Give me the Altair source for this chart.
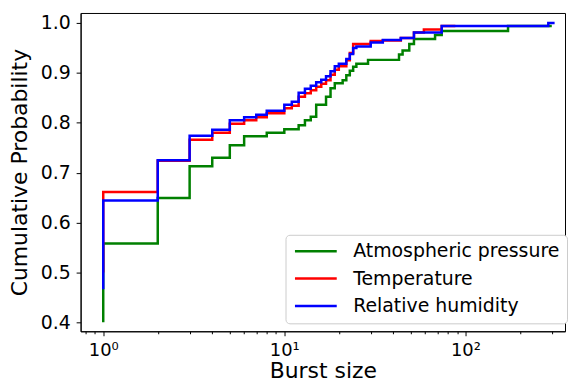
import altair as alt
import pandas as pd

series_names = ["Atmospheric pressure", "Temperature", "Relative humidity"]
series_colors = ["#008000", "#ff0000", "#0000ff"]

atm_x = [1, 1, 2, 3, 4, 5, 6, 8, 10, 12, 13, 14, 15, 17, 18, 19, 21, 22, 23, 24, 25, 29, 43, 45, 49, 52, 68, 74, 172, 300]
atm_y = [0.400, 0.558, 0.649, 0.713, 0.730, 0.755, 0.773, 0.780, 0.787, 0.795, 0.805, 0.812, 0.836, 0.852, 0.869,
         0.879, 0.885, 0.895, 0.904, 0.912, 0.918, 0.926, 0.937, 0.945, 0.958, 0.968, 0.976, 0.984, 0.994, 0.994]

temp_x = [1, 1, 2, 3, 4, 5, 6, 7, 8, 10, 11, 12, 13, 14, 15, 16, 17, 18, 19, 20, 22, 23, 24, 30, 35, 44, 52, 59, 74, 88]
temp_y = [0.500, 0.661, 0.724, 0.766, 0.780, 0.798, 0.805, 0.811, 0.819, 0.829, 0.834, 0.852, 0.859, 0.865, 0.872,
          0.878, 0.885, 0.896, 0.906, 0.913, 0.925, 0.940, 0.958, 0.964, 0.965, 0.970, 0.981, 0.987, 0.994, 0.994]

rh_x = [1, 1, 2, 3, 4, 5, 6, 7, 8, 10, 11, 12, 13, 14, 15, 16, 17, 18, 19, 20, 22, 23, 24, 25, 30, 35, 44, 52, 74, 287, 311]
rh_y = [0.466, 0.644, 0.725, 0.774, 0.786, 0.805, 0.811, 0.816, 0.824, 0.836, 0.842, 0.860, 0.868, 0.874, 0.881,
        0.886, 0.893, 0.903, 0.913, 0.918, 0.928, 0.938, 0.950, 0.953, 0.961, 0.966, 0.970, 0.981, 0.994, 1.0, 1.0]

x_tick_values = [0.8, 0.9, 1, 2, 3, 4, 5, 6, 7, 8, 9, 10, 20, 30, 40, 50, 60, 70, 80, 90, 100, 200, 300]
y_tick_values = [0.4, 0.5, 0.6, 0.7, 0.8, 0.9, 1.0]

FONT = "DejaVu Sans"


def frame(name, xs, ys):
    return pd.DataFrame({"size": xs, "prob": ys, "series": [name] * len(xs)})


color_scale = alt.Scale(domain=series_names, range=series_colors)

x_enc = alt.X(
    "size:Q",
    scale=alt.Scale(type="log", domain=[0.75, 355], nice=False),
    axis=alt.Axis(
        title="Burst size",
        values=x_tick_values,
        labelExpr="datum.value == 1 ? '10⁰' : datum.value == 10 ? '10¹' : datum.value == 100 ? '10²' : ''",
        tickSize={"condition": {"test": "datum.value == 1 || datum.value == 10 || datum.value == 100", "value": 4.5},
                  "value": 2.5},
        labelOverlap=False,
        labelFontSize=18,
        labelPadding=5.5,
        titlePadding=1.5,
        grid=False,
    ),
)
y_enc = alt.Y(
    "prob:Q",
    scale=alt.Scale(domain=[0.382, 1.02], nice=False, zero=False),
    axis=alt.Axis(
        title="Cumulative Probability",
        values=y_tick_values,
        format=".1f",
        tickSize=4.5,
        labelFontSize=19,
        labelPadding=6,
        titlePadding=9,
        grid=False,
    ),
)
color_enc = alt.Color(
    "series:N",
    scale=color_scale,
    legend=alt.Legend(
        title=None,
        orient="none",
        legendX=206,
        legendY=223,
        symbolType="M-1,0L5,0",
        symbolSize=196,
        symbolStrokeWidth=2.5,
        labelFontSize=19,
        labelFont=FONT,
        labelColor="black",
        labelLimit=400,
        labelOffset=42,
        rowPadding=7.5,
        padding=7,
        strokeColor="#cccccc",
        fillColor="white",
        cornerRadius=4,
    ),
)

layers = []
for name, xs, ys in [(series_names[0], atm_x, atm_y), (series_names[1], temp_x, temp_y), (series_names[2], rh_x, rh_y)]:
    layers.append(
        alt.Chart(frame(name, xs, ys))
        .mark_line(interpolate="step-after", strokeWidth=2.5, clip=True)
        .encode(x=x_enc, y=y_enc, color=color_enc)
    )

chart = (
    alt.layer(*layers)
    .properties(width=487, height=320, padding={"left": 0, "top": 4, "right": 0, "bottom": 0})
    .configure_view(stroke="black", strokeWidth=1)
    .configure_axis(
        labelFont=FONT,
        titleFont=FONT,
        titleFontSize=22,
        titleFontWeight="normal",
        labelColor="black",
        titleColor="black",
        domainColor="black",
        tickColor="black",
        tickWidth=1,
        domainWidth=1,
    )
)

chart.save("out.html", embed_options={"renderer": "svg", "actions": False})
